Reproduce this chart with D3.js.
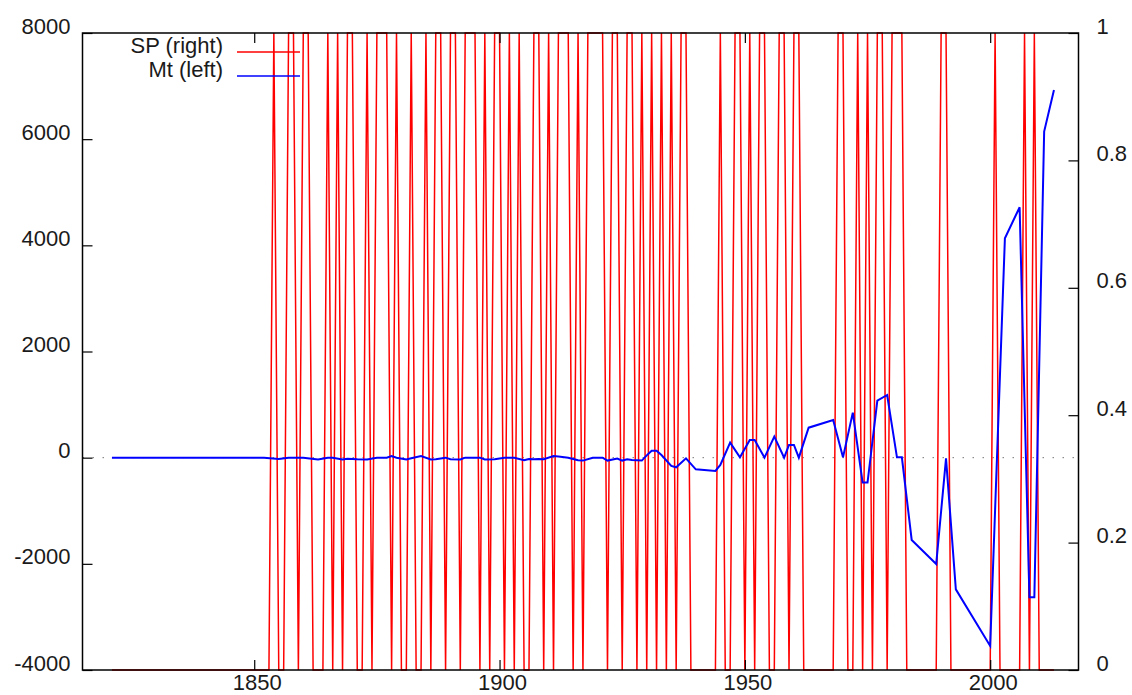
<!DOCTYPE html>
<html>
<head>
<meta charset="utf-8">
<script src="https://cdn.jsdelivr.net/npm/d3@7"></script>
<style>
  body { margin: 0; background: #fff; }
  text { font-family: "Liberation Sans", Arial, Helvetica, sans-serif; fill: #1a1a1a; }
</style>
</head>
<body>
<div id="chart"></div>
<script>
// DATA ___________________________________________________________
// SP (right axis): one 0/1 value per year, starting at SP_START_YEAR
const SP_START_YEAR = 1821;
const SP_VALUES = [
  0,0,0,0,0,0,0,0,0,0,   // 1821-1830
  0,0,0,0,0,0,0,0,0,0,   // 1831-1840
  0,0,0,0,0,0,0,0,0,0,   // 1841-1850
  0,0,0,1,0,0,1,1,0,1,   // 1851-1860
  1,0,0,0,1,0,1,0,1,1,   // 1861-1870
  0,0,1,0,1,1,1,0,1,0,   // 1871-1880
  0,1,0,0,1,0,1,1,0,1,   // 1881-1890
  1,0,1,1,1,0,1,0,1,1,   // 1891-1900
  0,1,0,1,0,0,1,1,0,1,   // 1901-1910
  0,1,1,1,0,1,0,1,1,1,   // 1911-1920
  1,0,1,1,0,1,1,0,1,0,   // 1921-1930
  1,0,1,0,1,0,1,1,0,0,   // 1931-1940
  0,0,0,0,1,0,0,1,1,0,   // 1941-1950
  1,0,1,1,0,0,1,1,0,1,   // 1951-1960
  1,0,0,0,0,0,0,0,1,1,   // 1961-1970
  0,0,1,0,1,0,1,1,0,1,   // 1971-1980
  1,1,0,0,0,0,0,0,0,1,   // 1981-1990
  1,0,0,0,0,0,0,0,0,0,   // 1991-2000
  1,0,0,0,0,0,1,0,1,0,   // 2001-2010
  0,0,0                  // 2011-2013
];

// Mt (left axis)
const MT_YEARS = [
  1821, 1850, 1852, 1855, 1857, 1860, 1863, 1865, 1866, 1868, 1869, 1871, 1873, 1875, 1877,
  1878, 1879, 1881, 1882, 1884, 1886, 1887, 1889, 1890, 1892, 1893, 1896, 1897, 1899, 1901,
  1903, 1905, 1906, 1907, 1908, 1909, 1911, 1912, 1914, 1916, 1917, 1919, 1921, 1922, 1924,
  1925, 1926, 1927, 1929, 1930, 1931, 1932, 1933, 1935, 1936, 1938, 1940, 1944, 1945, 1947,
  1949, 1951, 1952, 1954, 1956, 1958, 1959, 1960, 1961, 1963, 1968, 1970, 1972, 1974, 1975,
  1977, 1979, 1981, 1982, 1984, 1989, 1991, 1993, 2000, 2003, 2006, 2008, 2009, 2011, 2013
];
const MT_VALUES = [
  0, 0, 0, -25, 0, 0, -35, 0, 0, -35, -20, -30, -35, 0, 0,
  30, 0, -35, -10, 30, -35, -30, 0, -30, -35, 0, 0, -35, -30, 0,
  0, -50, -25, -30, -25, -30, 30, 20, 0, -50, -55, 0, 0, -55, -18,
  -55, -30, -45, -55, 44, 132, 132, 50, -156, -182, -12, -219, -251, -138, 283,
  6, 333, 333, 0, 396, 0, 239, 239, 0, 565, 710, 6, 848, -470, -470,
  1074, 1181, 6, 6, -1550, -2003, -12, -2480, -3547, 4133, 4717, -2630, -2630, 6142, 6927
];

// Axes
const X_DOMAIN = [1815, 2018];
const X_TICKS = [1850, 1900, 1950, 2000];
const LEFT_DOMAIN = [-4000, 8000];
const LEFT_TICKS = [-4000, -2000, 0, 2000, 4000, 6000, 8000];
const RIGHT_DOMAIN = [0, 1];
const RIGHT_TICKS = [0, 0.2, 0.4, 0.6, 0.8, 1];
const RIGHT_TICK_LABELS = ['0', '0.2', '0.4', '0.6', '0.8', '1'];

const LEGEND_LABELS = ['SP (right)', 'Mt (left)'];
const SERIES_COLORS = ['#ff0000', '#0000ff'];
//________________________________________________________________________________________


// LAYOUT ___________________________________________________________
const WIDTH = 1132, HEIGHT = 695;
const PLOT = {left: 82.5, right: 1078.5, top: 33, bottom: 670};
const FONT_SIZE = 22;
//________________________________________________________________________________________


function drawChart() {
    const svg = d3.select('#chart').append('svg')
        .attr('width', WIDTH)
        .attr('height', HEIGHT);

    // Scales
    const x = d3.scaleLinear().domain(X_DOMAIN).range([PLOT.left, PLOT.right]);
    const yLeft = d3.scaleLinear().domain(LEFT_DOMAIN).range([PLOT.bottom, PLOT.top]);
    const yRight = d3.scaleLinear().domain(RIGHT_DOMAIN).range([PLOT.bottom, PLOT.top]);

    // Dotted zero line (left axis)
    svg.append('line')
        .attr('x1', PLOT.left).attr('x2', PLOT.right)
        .attr('y1', yLeft(0)).attr('y2', yLeft(0))
        .attr('stroke', '#777')
        .attr('stroke-width', 1)
        .attr('stroke-dasharray', '1.5,8.5');

    // Series ------------------------------------------------------------
    const spData = SP_VALUES.map(function(v, i) { return {year: SP_START_YEAR + i, value: v}; });
    const mtData = MT_YEARS.map(function(yr, i) { return {year: yr, value: MT_VALUES[i]}; });

    svg.append('path')
        .datum(spData)
        .attr('fill', 'none')
        .attr('stroke', SERIES_COLORS[0])
        .attr('stroke-width', 1.5)
        .attr('d', d3.line()
            .x(function(d) { return x(d.year); })
            .y(function(d) { return yRight(d.value); }));

    svg.append('path')
        .datum(mtData)
        .attr('fill', 'none')
        .attr('stroke', SERIES_COLORS[1])
        .attr('stroke-width', 2)
        .attr('d', d3.line()
            .x(function(d) { return x(d.year); })
            .y(function(d) { return yLeft(d.value); }));
    //-------------------------------------------------------------------

    // Axes (ticks point inward) ------------------------------------------
    const bottomAxis = svg.append('g')
        .attr('transform', `translate(0,${PLOT.bottom})`)
        .call(d3.axisBottom(x).tickValues(X_TICKS).tickSize(-10).tickFormat(d3.format('d')));
    bottomAxis.selectAll('text').attr('y', 20).attr('dy', 0).attr('dx', 2.5);

    svg.append('g')
        .attr('transform', `translate(0,${PLOT.top})`)
        .call(d3.axisTop(x).tickValues(X_TICKS).tickSize(-10).tickFormat(''));

    const leftAxis = svg.append('g')
        .attr('transform', `translate(${PLOT.left},0)`)
        .call(d3.axisLeft(yLeft).tickValues(LEFT_TICKS).tickSize(-10).tickPadding(12)
            .tickFormat(function(d) { return String(d); }));
    leftAxis.selectAll('text').attr('dy', 0);

    const rightAxis = svg.append('g')
        .attr('transform', `translate(${PLOT.right},0)`)
        .call(d3.axisRight(yRight).tickValues(RIGHT_TICKS).tickSize(-10).tickPadding(18)
            .tickFormat(function(d, i) { return RIGHT_TICK_LABELS[i]; }));
    rightAxis.selectAll('text').attr('dy', 0);

    svg.selectAll('.domain').remove();
    svg.selectAll('.tick line').attr('stroke', '#000').attr('stroke-width', 1.2);
    svg.selectAll('.tick text')
        .attr('font-size', FONT_SIZE)
        .attr('font-family', '"Liberation Sans", Arial, sans-serif')
        .attr('fill', '#1a1a1a');
    //-------------------------------------------------------------------

    // Border
    svg.append('rect')
        .attr('x', PLOT.left).attr('y', PLOT.top)
        .attr('width', PLOT.right - PLOT.left)
        .attr('height', PLOT.bottom - PLOT.top)
        .attr('fill', 'none')
        .attr('stroke', '#000')
        .attr('stroke-width', 1.5);

    // Legend
    const legend = svg.append('g');
    LEGEND_LABELS.forEach(function(label, i) {
        const ly = 52 + i * 24;
        legend.append('text')
            .attr('x', 223).attr('y', ly + 1)
            .attr('text-anchor', 'end')
            .attr('font-size', FONT_SIZE)
            .text(label);
        legend.append('line')
            .attr('x1', 237).attr('x2', 300)
            .attr('y1', ly).attr('y2', ly)
            .attr('stroke', SERIES_COLORS[i])
            .attr('stroke-width', 1.5);
    });
}

drawChart();
</script>
</body>
</html>
